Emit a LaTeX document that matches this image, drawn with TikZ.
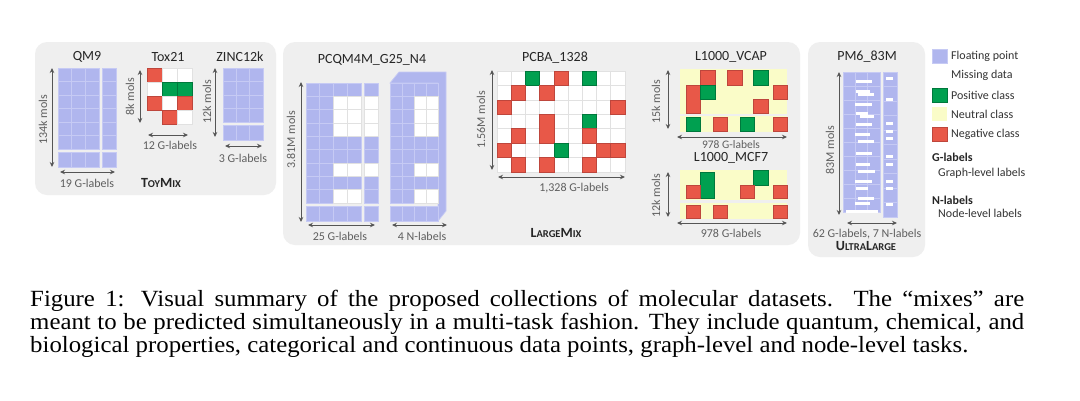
\documentclass[tikz,border=0pt]{standalone}
\usepackage{fontspec}
\setmainfont{Carlito}
\newfontfamily\capfont[FakeStretch=1.07]{Liberation Serif}
\usetikzlibrary{arrows.meta}
\definecolor{panelc}{RGB}{239,239,239}
\definecolor{bluec}{RGB}{176,182,238}
\definecolor{blueb}{RGB}{198,202,244}
\definecolor{greenc}{RGB}{0,160,80}
\definecolor{greend}{RGB}{0,120,60}
\definecolor{redc}{RGB}{232,88,72}
\definecolor{redd}{RGB}{190,70,60}
\definecolor{yellowc}{RGB}{250,252,200}
\definecolor{arrc}{RGB}{85,85,85}
\definecolor{labc}{RGB}{95,95,95}
\definecolor{cellb}{RGB}{225,225,225}
\tikzset{
 panel/.style={fill=panelc, rounded corners=12pt},
 ttl/.style={font=\fontsize{14}{16}\selectfont, text=black!85, inner sep=0pt},
 lab/.style={font=\fontsize{12}{14}\selectfont, text=labc, inner sep=0pt},
 vlab/.style={lab, rotate=90},
 mixlab/.style={font=\bfseries, text=black!85, inner sep=0pt},
 leg/.style={font=\fontsize{12}{14}\selectfont, text=black!80, inner sep=0pt, anchor=west},
 legb/.style={font=\fontsize{12}{14}\selectfont\bfseries, text=black!85, inner sep=0pt, anchor=west},
 dimarr/.style={{Stealth[length=5pt,width=4.5pt]}-{Stealth[length=5pt,width=4.5pt]}, draw=arrc, line width=1pt},
 bcell/.style={fill=bluec, draw=blueb, line width=0.7pt},
 wcell/.style={fill=white, draw=cellb, line width=0.6pt},
 rcell/.style={fill=redc, draw=redd, line width=0.6pt},
 gcell/.style={fill=greenc, draw=greend, line width=0.6pt},
 ycell/.style={fill=yellowc},
 capst/.style={font=\capfont\fontsize{23.2}{23}\selectfont, inner sep=0pt, anchor=base west},
}
\newcommand{\bblock}[6]{\foreach \ci in {1,...,#3}{\foreach \ri in {1,...,#4}{\draw[bcell] ({#1+(\ci-1)*(#5)},{#2+(\ri-1)*(#6)}) rectangle ++(#5,#6);}}}
\newcommand{\pcba}[3]{\draw[#1] ({497+#2*14.2},{71+#3*14.4}) rectangle ++(14.2,14.4);}
\newcommand{\tox}[3]{\draw[#1] ({147+#2*15},{68+#3*14}) rectangle ++(15,14);}
\newcommand{\fsc}[2]{{\fontsize{14}{16}\selectfont #1}{\fontsize{10.5}{12}\selectfont #2}}
\begin{document}
\begin{tikzpicture}[x=1pt,y=-1pt]
\path[use as bounding box, fill=white] (0,0) rectangle (1080,400);
% panels
\path[panel] (35,42) rectangle (276,195);
\path[panel] (283,42) rectangle (800,245);
\path[panel] (808,42) rectangle (925,257);

% ---------------- QM9
\node[ttl] (tqm9) at (87,57) {QM9};
\bblock{58}{68}{3}{6}{13.67}{13.5}
\bblock{102}{68}{1}{6}{14}{13.5}
\bblock{58}{152}{3}{1}{13.67}{15}
\bblock{102}{152}{1}{1}{14}{15}
\coordinate (qv1) at (52,68); \coordinate (qv2) at (52,167);
\draw[dimarr] (qv1) -- (qv2);
\node[vlab] (lqv) at (43,120) {134k mols};
\coordinate (qh1) at (60,172); \coordinate (qh2) at (115,172);
\draw[dimarr] (qh1) -- (qh2);
\node[lab] (lqh) at (87,183) {19 G-labels};
\node[mixlab] (toymix) at (161,183) {\fsc{T}{OY}\fsc{M}{IX}};

% ---------------- Tox21
\node[ttl] (ttox) at (168,57) {Tox21};
\tox{rcell}{0}{0}\tox{wcell}{1}{0}\tox{wcell}{2}{0}
\tox{wcell}{0}{1}\tox{gcell}{1}{1}\tox{gcell}{2}{1}
\tox{rcell}{0}{2}\tox{wcell}{1}{2}\tox{rcell}{2}{2}
\tox{rcell}{1}{3}\tox{wcell}{2}{3}
\coordinate (tv1) at (140,70); \coordinate (tv2) at (140,123);
\draw[dimarr] (tv1) -- (tv2);
\node[vlab] (ltv) at (130,97) {8k mols};
\coordinate (th1) at (148,135); \coordinate (th2) at (188,135);
\draw[dimarr] (th1) -- (th2);
\node[lab] (lth) at (170,145) {12 G-labels};

% ---------------- ZINC12k
\node[ttl] (tzinc) at (240,57) {ZINC12k};
\bblock{223}{68}{3}{4}{13.33}{13.5}
\bblock{223}{125}{3}{1}{13.33}{15}
\coordinate (zv1) at (215,68); \coordinate (zv2) at (215,137);
\draw[dimarr] (zv1) -- (zv2);
\node[vlab] (lzv) at (207,102) {12k mols};
\coordinate (zh1) at (225,146); \coordinate (zh2) at (262,146);
\draw[dimarr] (zh1) -- (zh2);
\node[lab] (lzh) at (243,158) {3 G-labels};

% ---------------- PCQM4M
\node[ttl] (tpcqm) at (372,60) {PCQM4M\_G25\_N4};
\bblock{306}{83}{4}{9}{13.75}{13.33}
\bblock{364}{83}{1}{9}{14}{13.33}
\bblock{306}{206}{4}{1}{13.75}{15}
\bblock{364}{206}{1}{1}{14}{15}
\foreach \cc/\rr in {2/1,3/1,2/2,3/2,2/3,3/3,2/6,3/6,2/8,3/8}
  {\draw[wcell] ({306+\cc*13.75},{83+\rr*13.33}) rectangle ++(13.75,13.33);}
\foreach \rr in {1,2,3,6}
  {\draw[wcell] (364,{83+\rr*13.33}) rectangle ++(14,13.33);}
% N-labels 3D block
\draw[bcell] (390,83) -- (399,72) -- (446,72) -- (446,211) -- (438,221) -- (438,83) -- cycle;
\bblock{390}{83}{4}{9}{12}{13.33}
\bblock{390}{206}{4}{1}{12}{15}
\foreach \cc/\rr in {2/1,3/1,2/2,3/2,2/3,3/3,2/6,3/6,2/8,3/8}
  {\draw[wcell] ({390+\cc*12},{83+\rr*13.33}) rectangle ++(12,13.33);}
\coordinate (pv1) at (301,82); \coordinate (pv2) at (301,222);
\draw[dimarr] (pv1) -- (pv2);
\node[vlab] (lpv) at (291,140) {3.81M mols};
\coordinate (pg1) at (308,225); \coordinate (pg2) at (375,225);
\draw[dimarr] (pg1) -- (pg2);
\node[lab] (lpg) at (340,236) {25 G-labels};
\coordinate (pn1) at (392,225); \coordinate (pn2) at (447,225);
\draw[dimarr] (pn1) -- (pn2);
\node[lab] (lpn) at (422,236) {4 N-labels};

% ---------------- PCBA
\node[ttl] (tpcba) at (555,58) {PCBA\_1328};
\foreach \ci in {0,...,8}{\foreach \ri in {0,...,6}{\pcba{wcell}{\ci}{\ri}}}
\pcba{gcell}{2}{0}\pcba{rcell}{4}{0}\pcba{gcell}{6}{0}
\pcba{rcell}{1}{1}\pcba{rcell}{3}{1}
\pcba{rcell}{0}{2}\pcba{rcell}{8}{2}
\draw[rcell] ({497+3*14.2},{71+3*14.4}) rectangle ++(14.2,28.8);
\pcba{gcell}{6}{3}
\pcba{rcell}{1}{4}\pcba{rcell}{6}{4}
\pcba{rcell}{0}{5}\pcba{gcell}{4}{5}\pcba{rcell}{7}{5}\pcba{rcell}{8}{5}
\pcba{rcell}{1}{6}\pcba{rcell}{3}{6}\pcba{rcell}{6}{6}
\coordinate (bv1) at (492,70); \coordinate (bv2) at (492,170);
\draw[dimarr] (bv1) -- (bv2);
\node[vlab] (lbv) at (481,120) {1.56M mols};
\coordinate (bh1) at (498,177); \coordinate (bh2) at (625,177);
\draw[dimarr] (bh1) -- (bh2);
\node[lab] (lbh) at (574,188) {1,328 G-labels};
\node[mixlab] (largemix) at (556,233) {\fsc{L}{ARGE}\fsc{M}{IX}};

% ---------------- L1000_VCAP
\node[ttl] (tvcap) at (731,57) {L1000\_VCAP};
\fill[yellowc] (680,69) rectangle (787,114);
\fill[yellowc] (680,116) rectangle (787,132);
\draw[rcell] (700,70) rectangle (715,85);
\draw[rcell] (727,70) rectangle (742,85);
\draw[gcell] (753,70) rectangle (768,85);
\draw[rcell] (686,85) rectangle (700,113);
\draw[gcell] (700,85) rectangle (715,99);
\draw[rcell] (773,85) rectangle (787,99);
\draw[rcell] (753,99) rectangle (768,113);
\draw[gcell] (686,117) rectangle (700,131);
\draw[rcell] (713,117) rectangle (727,131);
\draw[gcell] (740,117) rectangle (754,131);
\draw[rcell] (773,117) rectangle (787,131);
\coordinate (vv1) at (668,70); \coordinate (vv2) at (668,129);
\draw[dimarr] (vv1) -- (vv2);
\node[vlab] (lvv) at (656,102) {15k mols};
\coordinate (vh1) at (677,137); \coordinate (vh2) at (787,137);
\draw[dimarr] (vh1) -- (vh2);
\node[lab, font=\fontsize{11.5}{13}\selectfont] (lvh) at (731,145) {978 G-labels};

% ---------------- L1000_MCF7
\node[ttl] (tmcf) at (731,158) {L1000\_MCF7};
\fill[yellowc] (680,170) rectangle (787,200);
\fill[yellowc] (680,203) rectangle (787,219);
\draw[gcell] (700,172) rectangle (714,198);
\draw[gcell] (753,170) rectangle (768,185);
\draw[rcell] (686,185) rectangle (700,198);
\draw[rcell] (740,185) rectangle (754,198);
\draw[rcell] (773,185) rectangle (787,198);
\draw[rcell] (686,205) rectangle (700,218);
\draw[rcell] (713,205) rectangle (727,218);
\draw[rcell] (773,205) rectangle (787,218);
\coordinate (mv1) at (668,172); \coordinate (mv2) at (668,217);
\draw[dimarr] (mv1) -- (mv2);
\node[vlab] (lmv) at (656,196) {12k mols};
\coordinate (mh1) at (677,223); \coordinate (mh2) at (787,223);
\draw[dimarr] (mh1) -- (mh2);
\node[lab] (lmh) at (731,233) {978 G-labels};

% ---------------- PM6_83M
\node[ttl] (tpm6) at (867,57) {PM6\_83M};
\bblock{843}{72}{3}{10}{12.33}{14}
\bblock{883}{72}{1}{10}{14}{14.5}
\foreach \yy/\xa/\xb in {80/856/872,90/856/870,93/858/874,103/855/872,112/856/868,115/860/874,123/856/872,133/855/870,140/858/874,152/856/872,163/856/870,170/858/875,180/855/872,187/856/868,197/858/874,202/855/870,210/846/878}
  {\fill[white] (\xa,\yy) rectangle (\xb,\yy+2.5);}
\foreach \yy in {77,98,122,130,137,155,163,180,187,203}
  {\fill[white] (886,\yy) rectangle (893,\yy+2.5);}
\coordinate (uv1) at (839,72); \coordinate (uv2) at (839,215);
\draw[dimarr] (uv1) -- (uv2);
\node[vlab] (luv) at (830,150) {83M mols};
\coordinate (uh1) at (847,223); \coordinate (uh2) at (897,223);
\draw[dimarr] (uh1) -- (uh2);
\node[lab] (luh) at (867,234) {62 G-labels, 7 N-labels};
\node[mixlab] (ultra) at (866,246) {\fsc{U}{LTRA}\fsc{L}{ARGE}};

% ---------------- Legend
\draw[bcell] (932,49) rectangle (947,63);
\node[leg] (lg1) at (951,56) {Floating point};
\fill[white] (932,68) rectangle (947,82);
\node[leg] (lg2) at (951,75) {Missing data};
\draw[gcell] (932,88) rectangle (947,102);
\node[leg] (lg3) at (951,95) {Positive class};
\fill[yellowc] (932,107) rectangle (947,121);
\node[leg] (lg4) at (951,114) {Neutral class};
\draw[rcell] (932,127) rectangle (947,141);
\node[leg] (lg5) at (951,134) {Negative class};
\node[legb] (lg6) at (932,157) {G-labels};
\node[leg] (lg7) at (938,173) {Graph-level labels};
\node[legb] (lg8) at (932,200) {N-labels};
\node[leg] (lg9) at (938,213) {Node-level labels};

% ---------------- Caption
\node[capst] (cap1) at (30,306) {\makebox[994pt][s]{Figure 1: Visual summary of the proposed collections of molecular datasets.\ \ The “mixes” are}};
\node[capst] (cap2) at (30,329) {\makebox[994pt][s]{meant to be predicted simultaneously in a multi-task fashion. They include quantum, chemical, and}};
\node[capst] (cap3) at (30,352) {biological properties, categorical and continuous data points, graph-level and node-level tasks.};
\end{tikzpicture}
\end{document}
